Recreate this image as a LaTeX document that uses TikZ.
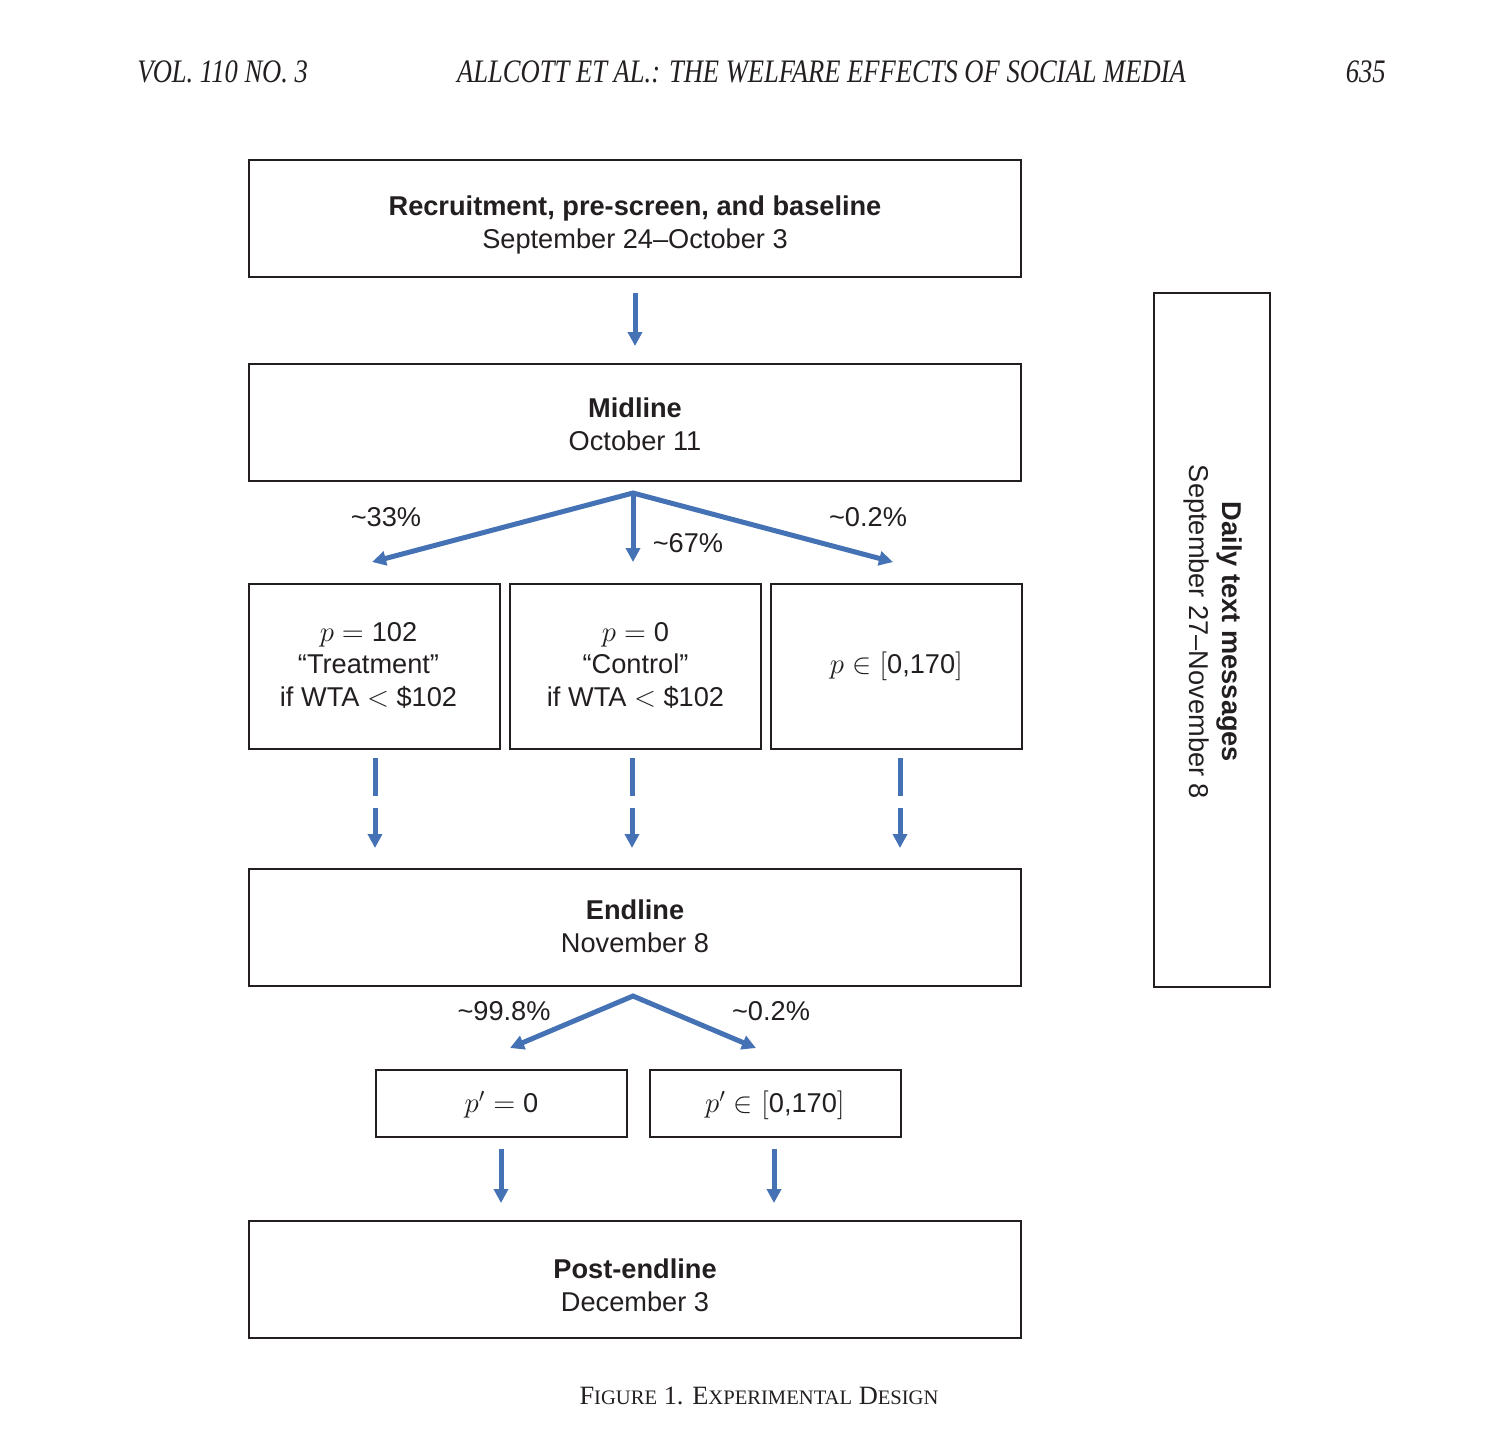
\documentclass[tikz,border=0pt]{standalone}
\usepackage{fontspec}
\setmainfont{Liberation Sans}
\newfontfamily\tms{Liberation Serif}
\usetikzlibrary{arrows.meta,calc}
\definecolor{arrowblue}{RGB}{68,114,180}
\definecolor{ink}{RGB}{35,31,32}
\newcommand{\scs}{\fontsize{10.3}{12}\selectfont}
\begin{document}
\begin{tikzpicture}[x=0.5pt,y=-0.5pt,
 box/.style={draw=ink, line width=1pt, text=ink, align=center, font=\fontsize{13.6}{16.5}\selectfont, inner sep=0pt},
 wide/.style={box, minimum width=386pt, minimum height=58.5pt, text depth=0pt, text height=#1},
 mid/.style={box, minimum width=125.5pt, minimum height=82.5pt, font=\fontsize{13.6}{16.25}\selectfont},
 small/.style={box, minimum width=125.5pt, minimum height=33.5pt, text depth=0pt, text height=9.2pt},
 flow/.style={draw=arrowblue, line width=2.5pt, -{Triangle[width=7pt,length=7pt]}},
 flowtwo/.style={draw=arrowblue, line width=2.5pt, {Triangle[width=7pt,length=7pt]}-{Triangle[width=7pt,length=7pt]}},
 dflow/.style={flow, dash pattern=on 19pt off 6pt},
 pct/.style={text=ink, font=\fontsize{13.6}{16.5}\selectfont, inner sep=0pt},
 hdr/.style={text=ink, font=\tms\itshape\fontsize{16.4}{18}\selectfont, inner sep=0pt, anchor=base, xscale=0.81},
]
\useasboundingbox (0,0) rectangle (1504,1448);
\fill[white] (0,0) rectangle (1504,1448);

% header
\node[hdr, anchor=base west] (hl) at (137,82) {VOL. 110 NO. 3};
\node[hdr] (hm) at (821.5,82) {ALLCOTT ET AL.: THE WELFARE EFFECTS OF SOCIAL MEDIA};
\node[hdr, anchor=base east] (hr) at (1386,82) {635};

% boxes
\node[wide=30.2pt] (b1) at (635,218.5) {\textbf{Recruitment, pre-screen, and baseline}\\September 24–October 3};
\node[wide=28.4pt] (b2) at (635,422.5) {\textbf{Midline}\\October 11};
\node[mid, text depth=0pt, text height=39.7pt] (t1) at (374.5,666.5) {$p=\mbox{102}$\kern6pt\\“Treatment”\kern6pt\\if WTA $<$ \$102\kern6pt};
\node[mid, text depth=0pt, text height=39.7pt] (t2) at (635.5,666.5) {$p=\mbox{0}$\\“Control”\\if WTA $<$ \$102};
\node[mid] (t3) at (896.5,666.5) {$p\in[\mbox{0,170}]$};
\node[wide=25.2pt] (b3) at (635,927.5) {\textbf{Endline}\\November 8};
\node[small] (s1) at (501.5,1103.5) {$p'=\mbox{0}$};
\node[small] (s2) at (775,1103.5) {$p'\in[\mbox{0,170}]$};
\node[wide=32.4pt] (b4) at (635,1279.5) {\textbf{Post-endline}\\December 3};
\node[box, minimum width=58pt, minimum height=347pt] (dt) at (1212,640) {};
\node[text=ink, align=center, font=\fontsize{13.6}{16.5}\selectfont, inner sep=0pt, rotate=-90] (dtt) at ($(dt.center)+(1,-8)$) {\textbf{Daily text messages}\\September 27–November 8};

% arrow b1 -> b2
\draw[flow] ($(b1.south)+(0,15)$) -- ($(b2.north)+(0,-17)$);

% fork from midline
\coordinate (f1) at ($(b2.south)+(-2,11)$);
\coordinate (e1) at (372,562);
\coordinate (e2) at (633,562);
\coordinate (e3) at (893,562);
\draw[flowtwo] (e1) -- (f1) -- (e3);
\draw[flow] (f1) -- (e2);
\node[pct] (l1) at (386,517) {\textasciitilde33\%};
\node[pct] (l2) at (688,543) {\textasciitilde67\%};
\node[pct] (l3) at (868,517) {\textasciitilde0.2\%};

% dashed arrows to endline
\coordinate (d1a) at (375,758); \coordinate (d1b) at (375,848);
\coordinate (d2a) at (632,758); \coordinate (d2b) at (632,848);
\coordinate (d3a) at (900,758); \coordinate (d3b) at (900,848);
\draw[dflow] (d1a) -- (d1b);
\draw[dflow] (d2a) -- (d2b);
\draw[dflow] (d3a) -- (d3b);

% fork from endline
\coordinate (f2) at ($(b3.south)+(-2,9)$);
\coordinate (g1) at (510,1048);
\coordinate (g2) at (756,1048);
\draw[flowtwo] (g1) -- (f2) -- (g2);
\node[pct] (l4) at (504,1011) {\textasciitilde99.8\%};
\node[pct] (l5) at (771,1011) {\textasciitilde0.2\%};

% arrows to post-endline
\draw[flow] ($(s1.south)+(-0.5,11)$) -- ($(s1.south)+(-0.5,65)$);
\draw[flow] ($(s2.south)+(-1,11)$) -- ($(s2.south)+(-1,65)$);

% caption
\node[text=ink, font=\tms\fontsize{13.2}{15}\selectfont, inner sep=0pt, anchor=base] (cap) at (759,1404)
 {F{\scs IGURE} 1. E{\scs XPERIMENTAL} D{\scs ESIGN}};
\end{tikzpicture}
\end{document}
